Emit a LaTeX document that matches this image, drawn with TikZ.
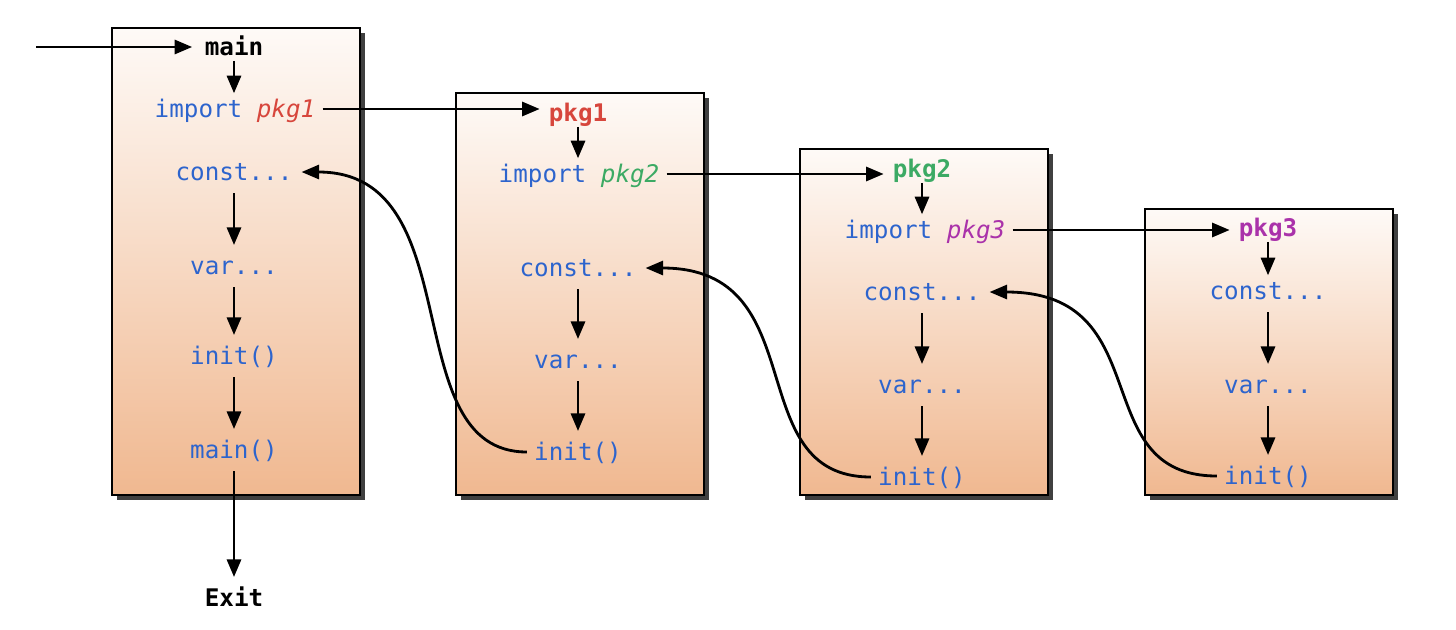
\documentclass[tikz,border=0pt]{standalone}
\usepackage{fontspec}
\setmonofont{DejaVu Sans Mono}
\usetikzlibrary{arrows.meta,shadows}
\definecolor{kwblue}{RGB}{45,100,205}
\definecolor{pkgred}{RGB}{215,70,60}
\definecolor{pkggreen}{RGB}{60,170,100}
\definecolor{pkgpurple}{RGB}{170,50,170}
\definecolor{peachtop}{RGB}{254,250,247}
\definecolor{peachbot}{RGB}{240,184,144}
\tikzset{
  pkgbox/.style={draw=black, line width=1.5pt, top color=peachtop, bottom color=peachbot,
    drop shadow={shadow xshift=.09cm, shadow yshift=-.09cm, opacity=.75, fill=black}},
  code/.style={font=\ttfamily\fontsize{13.8}{16}\selectfont, text=kwblue, inner sep=0pt,
    text height=10.5pt, text depth=1pt},
  head/.style={code, font=\ttfamily\bfseries\fontsize{13.8}{16}\selectfont},
  flow/.style={-{Triangle[length=10pt,width=8pt]}, line width=1.6pt, shorten <=4pt, shorten >=5pt},
  seq/.style={flow, shorten <=6pt, shorten >=6pt},
  hop/.style={flow, shorten <=2pt, shorten >=3pt},
}
\newcommand{\imp}[2]{import \textit{\color{#1}#2}}
\begin{document}
\begin{tikzpicture}[x=0.02cm, y=-0.02cm]
\useasboundingbox (0,0) rectangle (1456,629);
% the four packages
\draw[pkgbox] (112,28) rectangle (360,495);
\draw[pkgbox] (456,93) rectangle (704,495);
\draw[pkgbox] (800,149) rectangle (1048,495);
\draw[pkgbox] (1145,209) rectangle (1393,495);
% main
\coordinate (entry) at (36,47);
\node[head, text=black] (main) at (234,47) {main};
\node[code] (imp1) at (235,109) {\imp{pkgred}{pkg1}};
\node[code] (const1) at (234,172) {const...};
\node[code] (var1) at (234,266) {var...};
\node[code] (init1) at (234,356) {init()};
\node[code] (mainf) at (234,450) {main()};
\node[head, text=black] (exit) at (234,598) {Exit};
% pkg1
\node[head, text=pkgred] (pkg1) at (578,113) {pkg1};
\node[code] (imp2) at (579,174) {\imp{pkggreen}{pkg2}};
\node[code] (const2) at (578,268) {const...};
\node[code] (var2) at (578,360) {var...};
\node[code] (init2) at (578,452) {init()};
% pkg2
\node[head, text=pkggreen] (pkg2) at (922,169) {pkg2};
\node[code] (imp3) at (925,230) {\imp{pkgpurple}{pkg3}};
\node[code] (const3) at (922,292) {const...};
\node[code] (var3) at (922,385) {var...};
\node[code] (init3) at (922,477) {init()};
% pkg3
\node[head, text=pkgpurple] (pkg3) at (1268,228) {pkg3};
\node[code] (const4) at (1268,291) {const...};
\node[code] (var4) at (1268,385) {var...};
\node[code] (init4) at (1268,476) {init()};

\draw[flow, shorten <=0pt, shorten >=7pt] (entry) -- (main);
\foreach \a/\b in {main/imp1, pkg1/imp2, pkg2/imp3, pkg3/const4}
  \draw[hop] (\a.south) -- (\a.south |- \b.north);
\foreach \a/\b in {const1/var1, var1/init1, init1/mainf, mainf/exit,
                   const2/var2, var2/init2, const3/var3, var3/init3,
                   const4/var4, var4/init4}
  \draw[seq] (\a) -- (\b);
\draw[flow] (imp1.east) -- (imp1.east -| pkg1.west);
\draw[flow] (imp2.east) -- (imp2.east -| pkg2.west);
\draw[flow] (imp3.east) -- (imp3.east -| pkg3.west);
% init() hands back to the importer
\draw[flow] (init2.west) .. controls +(-140,0) and +(180,0) .. (const1.east);
\draw[flow] (init3.west) .. controls +(-140,0) and +(180,0) .. (const2.east);
\draw[flow] (init4.west) .. controls +(-140,0) and +(180,0) .. (const3.east);
\end{tikzpicture}
\end{document}
